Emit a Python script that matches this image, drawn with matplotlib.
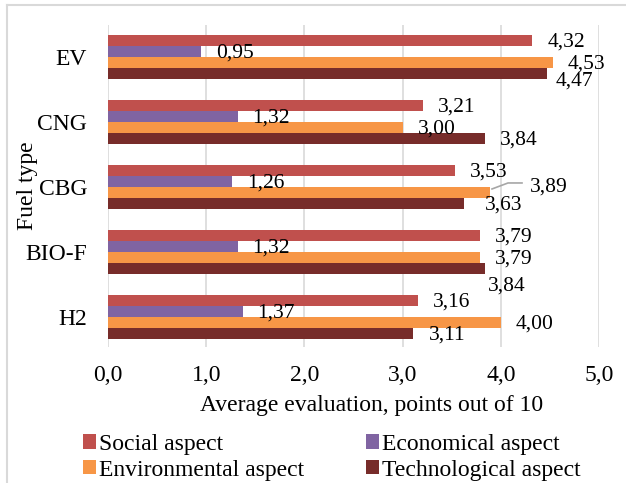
import matplotlib
matplotlib.use("Agg")
import matplotlib.pyplot as plt
from matplotlib.patches import Patch
from matplotlib.lines import Line2D
from matplotlib.transforms import IdentityTransform
import numpy as np

categories = ["EV", "CNG", "CBG", "BIO-F", "H2"]
series_names = ["Social aspect", "Economical aspect", "Environmental aspect", "Technological aspect"]
social = [4.32, 3.21, 3.53, 3.79, 3.16]
economical = [0.95, 1.32, 1.26, 1.32, 1.37]
environmental = [4.53, 3.00, 3.89, 3.79, 4.00]
technological = [4.47, 3.84, 3.63, 3.84, 3.11]
xticks = [0, 1, 2, 3, 4, 5]
xtick_labels = ["0,0", "1,0", "2,0", "3,0", "4,0", "5,0"]

colors = ["#C0504D", "#8064A2", "#F79646", "#772C2A"]
series = [social, economical, environmental, technological]

# label offsets in pixels (dx from bar end, dy downward from bar center)
default_off = (15, 1.5)
special_off = {(0, 3): (9, 8), (2, 2): (40, -5.5), (2, 3): (20, 1.5), (3, 3): (3, 18)}

plt.rcParams["font.family"] = ["Liberation Serif", "DejaVu Serif"]
FS = 17
FSL = 15.5

W, H = 626, 483
fig = plt.figure(figsize=(W / 100, H / 100), dpi=100)
L, R, T, B = 108, 599, 25, 347
ax = fig.add_axes([L / W, 1 - B / H, (R - L) / W, (B - T) / H])

bh = 0.169
pos = np.arange(len(categories))
for s, (vals, col, name) in enumerate(zip(series, colors, series_names)):
    yc = pos + (s - 1.5) * bh
    ax.barh(yc, vals, height=bh, color=col, label=name, zorder=3)

ax.set_xlim(0, 5)
ax.set_ylim(4.46, -0.49)
ax.set_xticks(xticks)
ax.set_xticklabels(xtick_labels, fontsize=FS)
ax.set_yticks(pos)
ax.set_yticklabels(categories, fontsize=FS)
ax.tick_params(axis="both", length=0)
ax.tick_params(axis="y", pad=15)
ax.tick_params(axis="x", pad=13)
ax.grid(axis="x", color="#D9D9D9", lw=1.2, zorder=0)
for sp in ax.spines.values():
    sp.set_visible(False)

ax.set_xlabel("Average evaluation, points out of 10", fontsize=FS, va="center")
ax.xaxis.set_label_coords((372 - L) / (R - L), (B - 405) / (B - T))
ax.set_ylabel("Fuel type", fontsize=FS, va="center")
ax.yaxis.set_label_coords((27 - L) / (R - L), (B - 186) / (B - T))

fig.canvas.draw()
for s, vals in enumerate(series):
    for i, v in enumerate(vals):
        yc = pos[i] + (s - 1.5) * bh
        dx, dy = special_off.get((i, s), default_off)
        ax.annotate(f"{v:.2f}".replace(".", ","), (v, yc), xytext=(dx, -dy),
                    textcoords="offset pixels", ha="left", va="center",
                    fontsize=FSL, zorder=5)
        if (i, s) == (2, 2):
            px, py = ax.transData.transform((v, yc))
            xs = [px + 2, px + 18, px + 32]
            ys = [py + 3.5, py + 9.5, py + 9.5]
            ax.add_line(Line2D(xs, ys, transform=IdentityTransform(), color="#A6A6A6", lw=1.2, zorder=4))

# column-major order so rows read: Social, Economical / Environmental, Technological
order = [0, 2, 1, 3]
handles = [Patch(facecolor=colors[k], edgecolor="none") for k in order]
labels = [series_names[k] for k in order]
leg = fig.legend(handles, labels, loc="upper left", ncol=2, frameon=False,
                 bbox_to_anchor=(71 / W, 1 - 422 / H), fontsize=FS,
                 handlelength=0.55, handleheight=0.55, handletextpad=0.15,
                 columnspacing=2.6, labelspacing=0.2, borderpad=0)

# chart border (top and left visible)
fig.add_artist(Line2D([7 / W, 1], [1 - 5 / H, 1 - 5 / H], transform=fig.transFigure, color="#D9D9D9", lw=1.5))
fig.add_artist(Line2D([7 / W, 7 / W], [0, 1 - 5 / H], transform=fig.transFigure, color="#D9D9D9", lw=1.5))

fig.savefig("out.png", dpi=100)
